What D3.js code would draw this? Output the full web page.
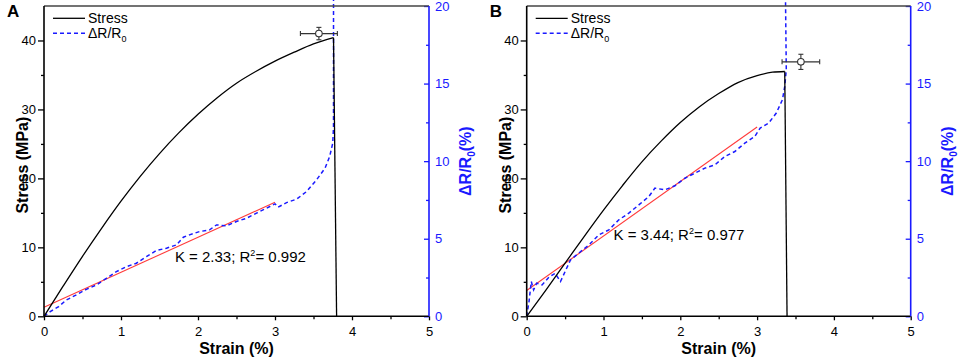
<!DOCTYPE html>
<html>
<head>
<meta charset="utf-8">
<script src="https://cdn.jsdelivr.net/npm/d3@7"></script>
<style>
body { margin: 0; background: #fff; }
svg { display: block; font-family: Arial, "Liberation Sans", sans-serif; }
</style>
</head>
<body>
<svg id="chart" width="960" height="363"></svg>
<script>
/**
 * Data: [strain %, value]
 */
var stressA = [[0,0],[0.25,4.4],[0.5,8.7],[0.75,12.8],[1.0,16.7],[1.25,20.3],[1.5,23.6],[1.75,26.6],
    [2.0,29.3],[2.25,31.7],[2.5,33.8],[2.75,35.5],[3.0,37.0],[3.25,38.3],[3.5,39.5],[3.76,40.4]];
var breakA = 3.80;

var resistA = [[0,0],[0.08,0.30],[0.19,0.62],[0.29,1.05],[0.42,1.38],[0.55,1.74],[0.68,2.02],[0.81,2.45],
    [0.94,2.88],[1.07,3.20],[1.20,3.42],[1.33,3.85],[1.46,4.24],[1.59,4.39],[1.72,4.60],[1.81,5.10],
    [1.89,5.25],[2.02,5.46],[2.15,5.57],[2.24,5.89],[2.37,5.83],[2.50,6.11],[2.63,6.32],[2.76,6.65],
    [2.89,6.97],[3.00,7.25],[3.04,7.03],[3.15,7.33],[3.28,7.55],[3.41,8.04],[3.54,8.80],[3.65,9.55],
    [3.71,10.30],[3.75,11.16],[3.76,12.24],[3.76,20.4]];
var fitA = [[0,0.58],[3.0,7.35]];
var pointA = {x: 3.57, y: 41.0, xerr: 0.24, yerr: 0.9};
var labelA = {k: "2.33", r2: "0.992", x: 1.70, y: 7.9};

var stressB = [[0,0],[0.25,3.8],[0.5,7.7],[0.75,11.6],[1.0,15.4],[1.25,19.0],[1.5,22.4],[1.75,25.4],
    [2.0,28.1],[2.25,30.4],[2.5,32.3],[2.75,33.9],[3.0,34.9],[3.2,35.4],[3.36,35.5]];
var breakB = 3.39;

var resistB = [[0,0],[0.03,0.95],[0.06,2.24],[0.09,1.70],[0.13,2.13],[0.20,2.02],[0.29,2.52],[0.37,2.77],
    [0.44,2.24],[0.50,2.88],[0.57,3.63],[0.65,3.96],[0.81,4.60],[0.94,5.25],[1.07,5.57],[1.20,6.22],
    [1.33,6.65],[1.46,7.18],[1.59,7.72],[1.67,8.26],[1.80,8.15],[1.93,8.41],[2.06,8.90],[2.19,9.23],
    [2.32,9.55],[2.45,9.76],[2.58,10.30],[2.71,10.62],[2.84,11.16],[2.97,11.59],[3.04,12.13],[3.15,12.45],
    [3.25,13.10],[3.33,13.96],[3.36,14.82],[3.38,15.89],[3.37,20.4]];
var fitB = [[0,1.66],[3.0,12.2]];
var pointB = {x: 3.57, y: 36.9, xerr: 0.245, yerr: 1.1};
var labelB = {k: "3.44", r2: "0.977", x: 1.13, y: 11.0};

var strainTicks = [0,1,2,3,4,5];
var stressTicks = [0,10,20,30,40];
var resistTicks = [0,5,10,15,20];

var BLUE = "#1a1aff";

window.onload = function(){
    var svg = d3.select("#chart");
    drawPanel(svg, {name: "A", left: 44, right: 429, top: 6, bottom: 316.3,
        stress: stressA, brk: breakA, resist: resistA, fit: fitA, pt: pointA, lab: labelA});
    drawPanel(svg, {name: "B", left: 526.7, right: 910.7, top: 6, bottom: 316.3,
        stress: stressB, brk: breakB, resist: resistB, fit: fitB, pt: pointB, lab: labelB});
};

function drawPanel(svg, p){
    let g = svg.append("g");

    let x = d3.scaleLinear().domain([0, 5]).range([p.left, p.right]);
    let y = d3.scaleLinear().domain([0, 45]).range([p.bottom, p.top]);
    let yR = d3.scaleLinear().domain([0, 20]).range([p.bottom, p.top]);

    // fit line (red)
    g.append("path")
        .attr("d", d3.line().x(d => x(d[0])).y(d => yR(d[1]))(p.fit))
        .attr("fill", "none").attr("stroke", "#ff3b3b").attr("stroke-width", 1.1);

    // resistance change (blue dashed)
    g.append("path")
        .attr("d", d3.line().x(d => x(d[0])).y(d => yR(d[1]))(p.resist))
        .attr("fill", "none").attr("stroke", BLUE).attr("stroke-width", 1.5)
        .attr("stroke-dasharray", "4,3");

    // stress curve + break drop
    g.append("path")
        .attr("d", d3.line().curve(d3.curveMonotoneX).x(d => x(d[0])).y(d => y(d[1]))(p.stress))
        .attr("fill", "none").attr("stroke", "#000").attr("stroke-width", 1.3);
    let last = p.stress[p.stress.length - 1];
    g.append("path")
        .attr("d", d3.line().x(d => x(d[0])).y(d => y(d[1]))([last, [p.brk, 0]]))
        .attr("fill", "none").attr("stroke", "#000").attr("stroke-width", 1.3);

    // error bar point
    let eb = g.append("g").attr("stroke", "#333").attr("stroke-width", 1.1);
    let px = x(p.pt.x), py = y(p.pt.y);
    let x0 = x(p.pt.x - p.pt.xerr), x1 = x(p.pt.x + p.pt.xerr);
    let y0 = y(p.pt.y - p.pt.yerr), y1 = y(p.pt.y + p.pt.yerr);
    eb.append("line").attr("x1", x0).attr("x2", x1).attr("y1", py).attr("y2", py);
    eb.append("line").attr("x1", px).attr("x2", px).attr("y1", y0).attr("y2", y1);
    [x0, x1].forEach(function(v){
        eb.append("line").attr("x1", v).attr("x2", v).attr("y1", py - 2.5).attr("y2", py + 2.5);
    });
    [y0, y1].forEach(function(v){
        eb.append("line").attr("x1", px - 2.5).attr("x2", px + 2.5).attr("y1", v).attr("y2", v);
    });
    eb.append("circle").attr("cx", px).attr("cy", py).attr("r", 3.3).attr("fill", "#fff");

    // annotation
    let t = g.append("text").attr("x", x(p.lab.x)).attr("y", y(p.lab.y))
        .attr("font-size", 15).attr("fill", "#000");
    t.append("tspan").text("K = " + p.lab.k + "; R");
    t.append("tspan").attr("font-size", 9).attr("dy", -6).text("2");
    t.append("tspan").attr("dy", 6).text("= " + p.lab.r2);

    // axes
    let bottomAxis = d3.axisBottom(x).tickValues(strainTicks).tickFormat(d3.format("d"))
        .tickSize(4).tickSizeOuter(0).tickPadding(6);
    let bottomMinor = d3.axisBottom(x).tickValues([0.5,1.5,2.5,3.5,4.5]).tickFormat("")
        .tickSize(3).tickSizeOuter(0);
    let leftAxis = d3.axisLeft(y).tickValues(stressTicks).tickSize(6).tickSizeOuter(0).tickPadding(2);
    let leftMinor = d3.axisLeft(y).tickValues([5,15,25,35]).tickFormat("").tickSize(3).tickSizeOuter(0);
    let rightAxis = d3.axisRight(yR).tickValues(resistTicks).tickSize(-5).tickSizeOuter(0).tickPadding(6);
    let rightMinor = d3.axisRight(yR).tickValues([2.5,7.5,12.5,17.5]).tickFormat("").tickSize(-3).tickSizeOuter(0);

    function style(sel, color){
        sel.selectAll("path").remove();
        sel.selectAll("line").attr("stroke", color).attr("stroke-width", 1.3);
        sel.selectAll("text").attr("fill", color).attr("font-size", 13)
            .attr("font-family", "Arial, 'Liberation Sans', sans-serif");
    }

    style(g.append("g").attr("transform", `translate(0,${p.bottom})`).call(bottomAxis), "#000");
    style(g.append("g").attr("transform", `translate(0,${p.bottom})`).call(bottomMinor), "#000");
    style(g.append("g").attr("transform", `translate(${p.left},0)`).call(leftAxis), "#000");
    style(g.append("g").attr("transform", `translate(${p.left},0)`).call(leftMinor), "#000");
    style(g.append("g").attr("transform", `translate(${p.right},0)`).call(rightAxis), BLUE);
    style(g.append("g").attr("transform", `translate(${p.right},0)`).call(rightMinor), BLUE);

    // frame
    g.append("line").attr("x1", p.left).attr("x2", p.right).attr("y1", p.top).attr("y2", p.top)
        .attr("stroke", "#444").attr("stroke-width", 1.5);
    g.append("line").attr("x1", p.left).attr("x2", p.left).attr("y1", p.top).attr("y2", p.bottom)
        .attr("stroke", "#000").attr("stroke-width", 1.6);
    g.append("line").attr("x1", p.left).attr("x2", p.right).attr("y1", p.bottom).attr("y2", p.bottom)
        .attr("stroke", "#000").attr("stroke-width", 1.6);
    g.append("line").attr("x1", p.right).attr("x2", p.right).attr("y1", p.top).attr("y2", p.bottom)
        .attr("stroke", BLUE).attr("stroke-width", 1.6);

    // axis titles
    let midY = (p.top + p.bottom) / 2;
    g.append("text").attr("x", (p.left + p.right) / 2).attr("y", 354)
        .attr("text-anchor", "middle").attr("font-size", 16).attr("font-weight", "bold")
        .text("Strain (%)");
    g.append("text").attr("transform", `translate(${p.left - 16},${midY + 4}) rotate(-90)`)
        .attr("text-anchor", "middle").attr("font-size", 16).attr("font-weight", "bold")
        .text("Stress (MPa)");
    let rt = g.append("text").attr("transform", `translate(${p.right + 42},${midY}) rotate(-90)`)
        .attr("text-anchor", "middle").attr("font-size", 16).attr("font-weight", "bold")
        .attr("fill", BLUE);
    rt.append("tspan").text("\u0394R/R");
    rt.append("tspan").attr("font-size", 10).attr("dy", 4).text("0");
    rt.append("tspan").attr("dy", -4).text("(%)");

    // panel label
    g.append("text").attr("x", p.left - 37).attr("y", 17)
        .attr("font-size", 17).attr("font-weight", "bold").text(p.name);

    // legend
    let lg = g.append("g").attr("transform", `translate(${p.left + 9},0)`);
    lg.append("line").attr("x1", 0).attr("x2", 32).attr("y1", 18.3).attr("y2", 18.3)
        .attr("stroke", "#000").attr("stroke-width", 1.3);
    lg.append("text").attr("x", 35).attr("y", 23.3).attr("font-size", 14).text("Stress");
    lg.append("line").attr("x1", 0).attr("x2", 32).attr("y1", 33.3).attr("y2", 33.3)
        .attr("stroke", BLUE).attr("stroke-width", 1.5).attr("stroke-dasharray", "4,3");
    let lt = lg.append("text").attr("x", 35).attr("y", 38.3).attr("font-size", 14);
    lt.append("tspan").text("\u0394R/R");
    lt.append("tspan").attr("font-size", 9).attr("dy", 3.5).text("0");
}
</script>
</body>
</html>
